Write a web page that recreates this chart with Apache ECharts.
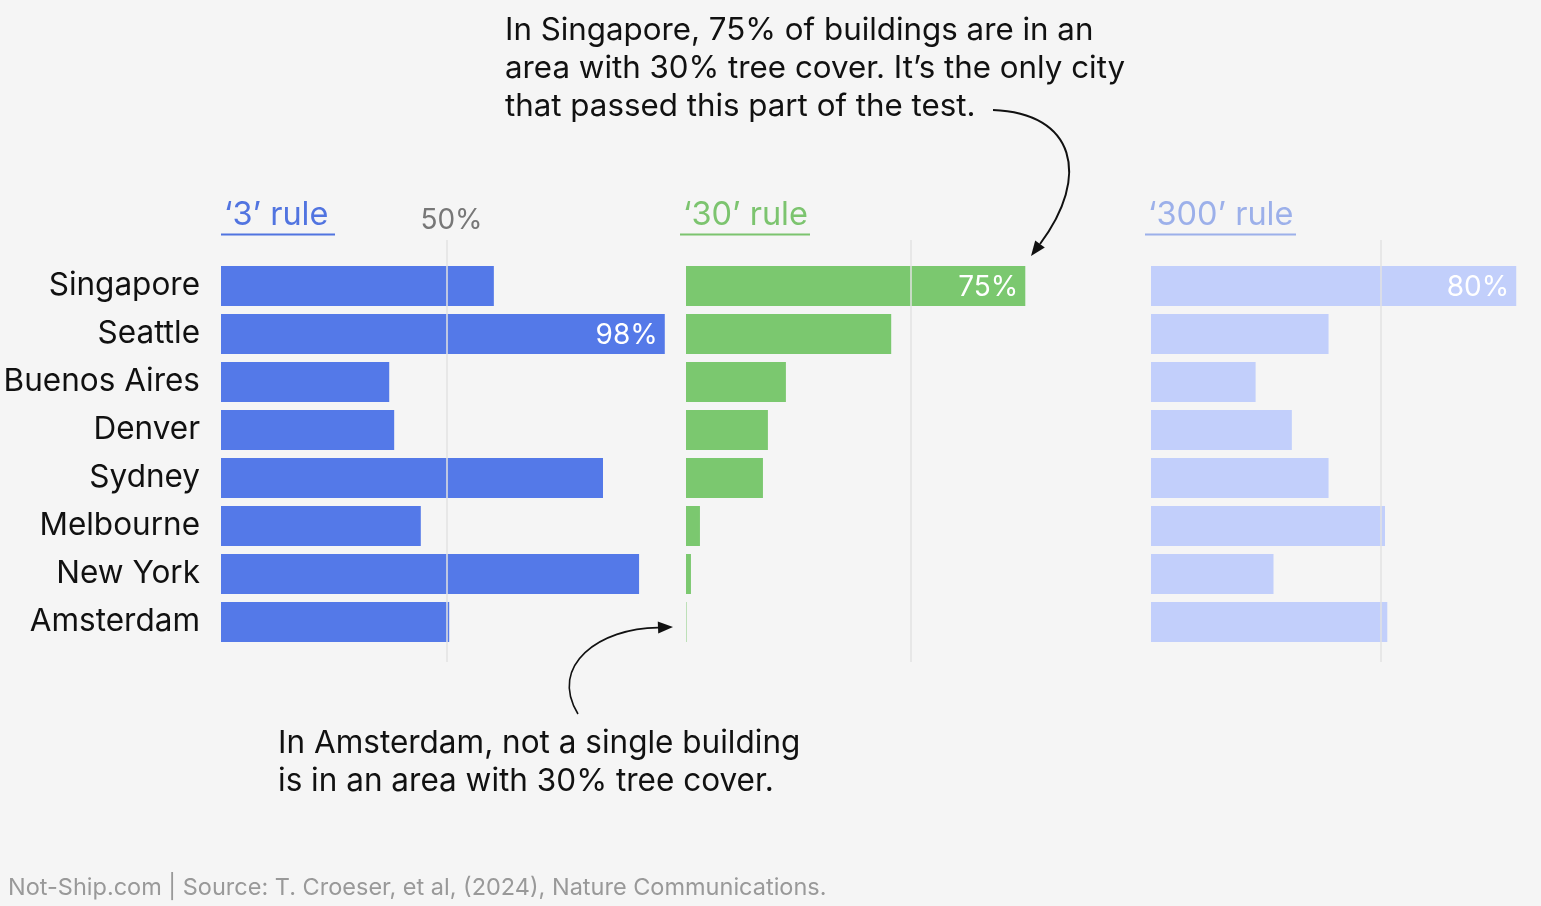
<!DOCTYPE html>
<html><head><meta charset="utf-8">
<script src="https://cdn.jsdelivr.net/npm/echarts@6/dist/echarts.min.js"></script>
<style>html,body{margin:0;padding:0;background:#f5f5f5}#c{width:1541px;height:906px}</style>
</head><body><div id="c"></div><script>
// ---- data ----
const cities = ['Singapore','Seattle','Buenos Aires','Denver','Sydney','Melbourne','New York','Amsterdam'];
const rule3   = [60.5, 98.4, 37.3, 38.4, 84.7, 44.3, 92.7, 50.6];
const rule30  = [75.4, 45.6, 22.2, 18.2, 17.1, 3.1, 1.1, 0];
const rule300 = [79.6, 38.7, 22.8, 30.7, 38.7, 51.0, 26.7, 51.5];
const panelTitles = ['‘3’ rule', '‘30’ rule', '‘300’ rule'];
const labelledIndex = [1, 0, 0];
const refValue = 50;
const topNote = 'In Singapore, 75% of buildings are in an\narea with 30% tree cover. It’s the only city\nthat passed this part of the test.';
const bottomNote = 'In Amsterdam, not a single building\nis in an area with 30% tree cover.';
const footer = 'Not-Ship.com | Source: T. Croeser, et al, (2024), Nature Communications.';

// ---- styling / layout ----
const FONT = 'Inter, "Noto Sans", sans-serif';
const barColors = ['#5479e8', '#7bc86f', '#c2cffb'];
const titleColors = ['#5174e0', '#7cc46f', '#9cb0ea'];
const lefts = [221, 686, 1151];
const widths = [451, 450, 391];
const maxes = [100, 100, 85];
const seriesData = [rule3, rule30, rule300];

const grids = [], xAxes = [], yAxes = [], series = [];
for (let p = 0; p < 3; p++) {
  grids.push({left: lefts[p], width: widths[p], top: 262, height: 384});
  grids.push({left: lefts[p], width: widths[p], top: 240, height: 422});
  const gi = p * 2;
  xAxes.push({gridIndex: gi, type: 'value', min: 0, max: maxes[p], show: false});
  xAxes.push({gridIndex: gi + 1, type: 'value', min: 0, max: maxes[p], interval: refValue, position: 'top', z: 5,
    axisLine: {show: false}, axisTick: {show: false},
    axisLabel: {show: p === 0, formatter: v => v === refValue ? v + '%' : '', color: '#777', fontSize: 28, fontFamily: FONT, margin: 5, padding: [0, 0, 0, 10]},
    splitLine: {show: true, showMinLine: false, showMaxLine: false, lineStyle: {color: '#e2e2e2', width: 1.5}}});
  yAxes.push({gridIndex: gi, type: 'category', data: cities, inverse: true,
    axisLine: {show: false}, axisTick: {show: false},
    axisLabel: {show: p === 0, color: '#111', fontSize: 31.5, fontFamily: FONT, margin: 21, padding: [3, 0, 0, 0]}});
  yAxes.push({gridIndex: gi + 1, type: 'value', min: 0, max: 1, show: false});
  series.push({
    type: 'bar', xAxisIndex: gi, yAxisIndex: gi, barCategoryGap: '16.7%', barMinHeight: 1,
    itemStyle: {color: barColors[p]},
    data: seriesData[p].map((v, i) => {
      const d = {value: v};
      if (i === labelledIndex[p]) d.label = {show: true, position: 'insideRight', distance: 8,
        formatter: o => Math.round(o.value) + '%', color: '#fff', fontSize: 28, fontFamily: FONT, offset: [1, 2]};
      if (v === 0) d.itemStyle = {opacity: 0.45};
      return d;
    })
  });
}

function arrowHead(tip, dir, L, W) {
  const n = Math.hypot(dir[0], dir[1]); const u = [dir[0]/n, dir[1]/n]; const nv = [-u[1], u[0]];
  const b = [tip[0] - L*u[0], tip[1] - L*u[1]];
  return {base: b, pts: [tip, [b[0] + nv[0]*W/2, b[1] + nv[1]*W/2], [b[0] - nv[0]*W/2, b[1] - nv[1]*W/2]]};
}
const ah1 = arrowHead([1031, 256], [-0.6, 0.8], 15, 12);
const ah2 = arrowHead([673, 627], [1, -0.04], 15, 12);

const graphic = [];
const titleW = [114, 130, 151];
for (let p = 0; p < 3; p++) {
  const x0 = lefts[p] - (p ? 6 : 0);
  graphic.push({type: 'text', x: x0 + 3, y: 199, style: {text: panelTitles[p], fill: titleColors[p], font: '32.5px ' + FONT}});
  graphic.push({type: 'line', shape: {x1: x0, y1: 234.5, x2: x0 + titleW[p], y2: 234.5}, style: {stroke: titleColors[p], lineWidth: 2}});
}
graphic.push({type: 'text', x: 505, y: 12, style: {text: topNote, fill: '#111', font: '31.3px ' + FONT, lineHeight: 38}});
graphic.push({type: 'text', x: 278, y: 725, style: {text: bottomNote, fill: '#111', font: '31.5px ' + FONT, lineHeight: 38}});
graphic.push({type: 'text', x: 8, y: 876, style: {text: footer, fill: '#999', font: '23.5px ' + FONT}});
graphic.push({type: 'bezierCurve', shape: {x1: 993, y1: 110, cpx1: 1075, cpy1: 113, cpx2: 1091, cpy2: 176, x2: ah1.base[0], y2: ah1.base[1]}, style: {stroke: '#111', lineWidth: 2, fill: null}});
graphic.push({type: 'polygon', shape: {points: ah1.pts}, style: {fill: '#111'}});
graphic.push({type: 'bezierCurve', shape: {x1: 578, y1: 714, cpx1: 548, cpy1: 665, cpx2: 600, cpy2: 628, x2: ah2.base[0], y2: ah2.base[1]}, style: {stroke: '#111', lineWidth: 1.6, fill: null}});
graphic.push({type: 'polygon', shape: {points: ah2.pts}, style: {fill: '#111'}});

const chart = echarts.init(document.getElementById('c'), null, {renderer: 'canvas'});
chart.setOption({
  backgroundColor: '#f5f5f5', animation: false,
  grid: grids, xAxis: xAxes, yAxis: yAxes, series: series, graphic: graphic
});
</script></body></html>
